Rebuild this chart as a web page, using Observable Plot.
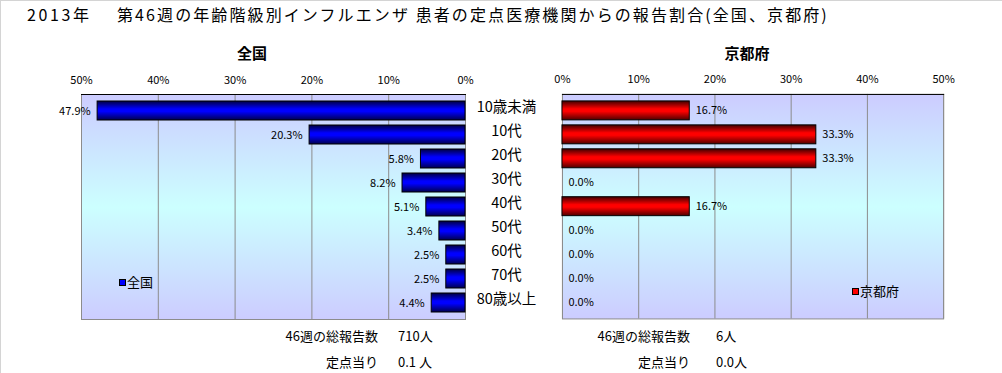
<!DOCTYPE html>
<html>
<head>
<meta charset="utf-8">
<script src="https://cdn.jsdelivr.net/npm/d3@7"></script>
<script src="https://cdn.jsdelivr.net/npm/@observablehq/plot@0.6"></script>
<style>
  html, body { margin: 0; padding: 0; background: #fff; }
  #root { position: relative; width: 1002px; height: 373px; box-sizing: border-box;
          border-top: 1px solid #d4d4d4; border-left: 1px solid #d4d4d4; overflow: hidden;
          font-family: "Noto Sans CJK JP", "Noto Sans", sans-serif; color: #000; }
  .abs { position: absolute; white-space: nowrap; line-height: 1; }
  .lbl { text-align: right; }
  .sq { display: inline-block; width: 5px; height: 5px; border: 1px solid #000; margin-right: 1px; vertical-align: middle; position: relative; top: -1px; }
</style>
</head>
<body>
<div id="root">
  <svg width="0" height="0" style="position:absolute">
    <defs>
      <linearGradient id="bgGrad" x1="0" y1="0" x2="0" y2="1">
        <stop offset="0" stop-color="#ccccff"/>
        <stop offset="0.5" stop-color="#ccffff"/>
        <stop offset="1" stop-color="#ccccff"/>
      </linearGradient>
      <linearGradient id="blueGrad" x1="0" y1="0" x2="0" y2="1">
        <stop offset="0" stop-color="#000040"/>
        <stop offset="0.42" stop-color="#0000ff"/>
        <stop offset="0.55" stop-color="#0000ff"/>
        <stop offset="1" stop-color="#000050"/>
      </linearGradient>
      <linearGradient id="redGrad" x1="0" y1="0" x2="0" y2="1">
        <stop offset="0" stop-color="#400000"/>
        <stop offset="0.42" stop-color="#ff0000"/>
        <stop offset="0.55" stop-color="#ff0000"/>
        <stop offset="1" stop-color="#500000"/>
      </linearGradient>
    </defs>
  </svg>
  <div class="abs" style="left:26px; top:5px; font-size:16px; letter-spacing:2.6px;">2013年</div>
  <div class="abs" id="title" style="left:116px; top:5px; font-size:16px; letter-spacing:2.1px;">第46週の年齢階級別インフルエンザ 患者の定点医療機関からの報告割合(全国、京都府)</div>
  <div class="abs" style="left:251px; top:44px; font-size:15px; font-weight:bold; transform:translateX(-50%);">全国</div>
  <div class="abs" style="left:746px; top:44px; font-size:15px; font-weight:bold; transform:translateX(-50%);">京都府</div>
  <div id="left" class="abs" style="left:0; top:60px;"></div>
  <div id="right" class="abs" style="left:545px; top:60px;"></div>
  <div class="abs" style="left:118px; top:274px; font-size:13px;"><span class="sq" style="background:#0000ff"></span>全国</div>
  <div class="abs" style="left:851px; top:283px; font-size:13px;"><span class="sq" style="background:#ff0000"></span>京都府</div>
  <div class="abs lbl" style="right:624px; top:328px; font-size:13px;">46週の総報告数</div>
  <div class="abs" style="left:397px; top:328px; font-size:13px;">710人</div>
  <div class="abs lbl" style="right:624px; top:354px; font-size:13px;">定点当り</div>
  <div class="abs" style="left:397px; top:354px; font-size:13px;">0.1 人</div>
  <div class="abs lbl" style="right:312px; top:328px; font-size:13px;">46週の総報告数</div>
  <div class="abs" style="left:715px; top:328px; font-size:13px;">6人</div>
  <div class="abs lbl" style="right:312px; top:354px; font-size:13px;">定点当り</div>
  <div class="abs" style="left:715px; top:354px; font-size:13px;">0.0人</div>
</div>
<script>
const categories = ["10歳未満","10代","20代","30代","40代","50代","60代","70代","80歳以上"];
const national = [47.9, 20.3, 5.8, 8.2, 5.1, 3.4, 2.5, 2.5, 4.4];
const kyoto = [16.7, 33.3, 33.3, 0.0, 16.7, 0.0, 0.0, 0.0, 0.0];
const xTicks = [0, 10, 20, 30, 40, 50];

const FONT = '"Noto Sans CJK JP", "Noto Sans", sans-serif';
const natRows = categories.map((c, i) => ({cat: c, v: national[i]}));
const kyoRows = categories.map((c, i) => ({cat: c, v: kyoto[i]}));
const fmt = d => d.toFixed(1) + "%";

function panel({rows, reverse, width, marginLeft, marginRight, fill, labelDx, labelAnchor, showCats}) {
  const marks = [
    Plot.frame({fill: "url(#bgGrad)", stroke: "none"}),
    Plot.ruleX(xTicks, {stroke: "#8c8c8c", strokeWidth: 1}),
    Plot.frame({stroke: "#8c8c8c"}),
    Plot.frame({anchor: "top", stroke: "#000"}),
    Plot.axisX({anchor: "top", ticks: xTicks, tickFormat: d => d + "%", tickSize: 0, tickPadding: 11, fontSize: 11, fill: "#000", label: null}),
    Plot.barX(rows.filter(d => d.v > 0), {x: "v", y: "cat", fill, stroke: "#000", strokeWidth: 1}),
    Plot.text(rows, {x: "v", y: "cat", text: d => fmt(d.v), dx: labelDx, textAnchor: labelAnchor, fontSize: 11, fill: "#000"})
  ];
  if (showCats) {
    marks.push(Plot.text(categories, {x: () => 0, y: d => d, text: d => d, dx: 41, dy: -4, textAnchor: "middle", fontSize: 14.5, fill: "#000"}));
  }
  return Plot.plot({
    width, height: 270,
    marginLeft, marginRight, marginTop: 33, marginBottom: 12,
    style: {fontFamily: FONT, background: "transparent", overflow: "visible"},
    x: {domain: [0, 50], reverse, axis: null, label: null},
    y: {domain: categories, padding: 0.22, axis: null, label: null},
    marks
  });
}

document.getElementById("left").appendChild(panel({
  rows: natRows, reverse: true, width: 545, marginLeft: 80, marginRight: 81,
  fill: "url(#blueGrad)", labelDx: -7, labelAnchor: "end", showCats: true
}));
document.getElementById("right").appendChild(panel({
  rows: kyoRows, reverse: false, width: 457, marginLeft: 16, marginRight: 59,
  fill: "url(#redGrad)", labelDx: 6, labelAnchor: "start", showCats: false
}));
</script>
</body>
</html>
